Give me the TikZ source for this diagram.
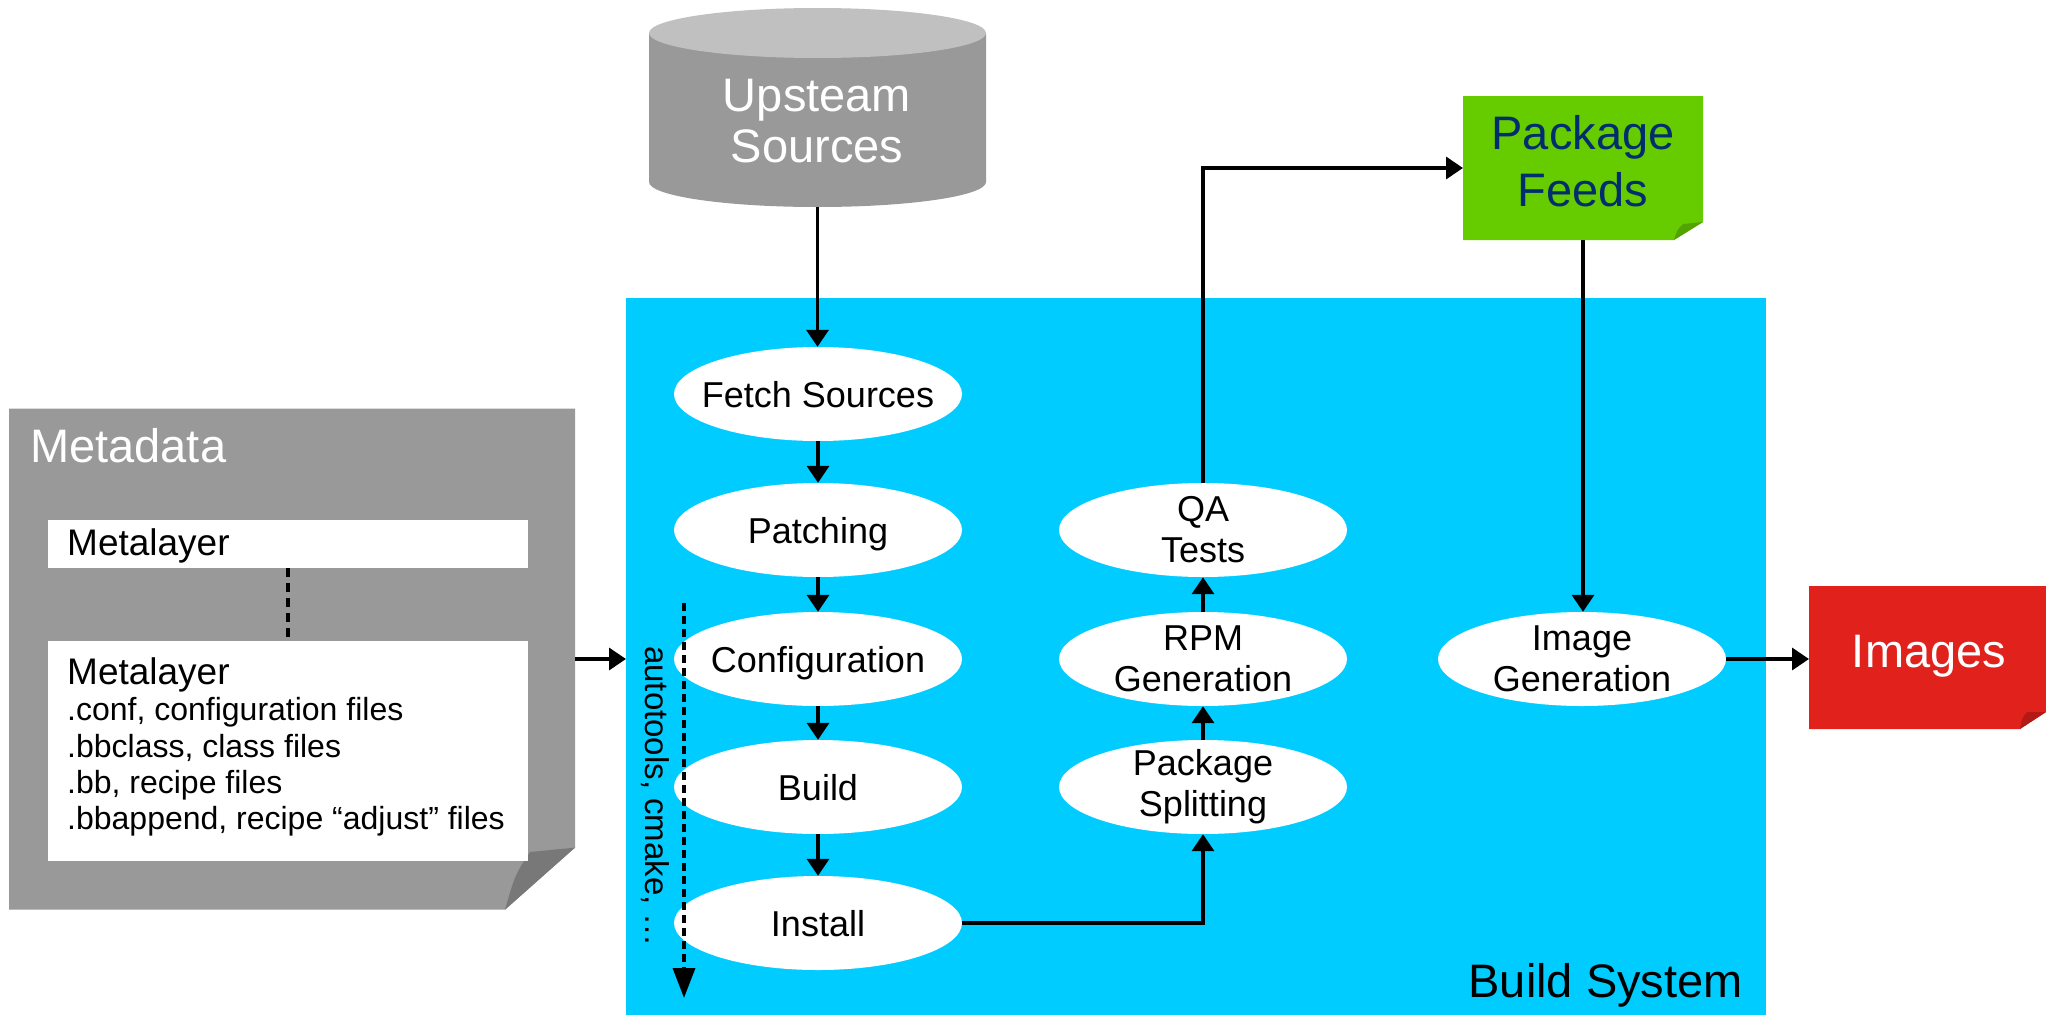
\documentclass[tikz,border=0pt]{standalone}
\usepackage{fontspec}
\setmainfont{Liberation Sans}
\usetikzlibrary{shapes.geometric,arrows.meta}

\definecolor{bscyan}{HTML}{00CCFF}
\definecolor{metagray}{HTML}{999999}
\definecolor{metafold}{HTML}{787878}
\definecolor{cyltop}{HTML}{C0C0C0}
\definecolor{feedgreen}{HTML}{66CC00}
\definecolor{feedfold}{HTML}{52A300}
\definecolor{imgred}{HTML}{E1211B}
\definecolor{imgfold}{HTML}{B31A15}
\definecolor{feednavy}{RGB}{0,45,110}

\newcommand\fsz[2]{\fontsize{#1pt}{#2pt}\selectfont}

\tikzset{
  procnode/.style={ellipse, fill=white, minimum width=288pt, minimum height=94pt, inner sep=0pt},
  lbl/.style={font=\fsz{36}{41}, align=center, inner sep=0pt},
  onel/.style={lbl, text height=26pt, text depth=0pt},
  arr/.style={line width=3.5pt, -{Triangle[width=22pt,length=17pt]}},
  dotline/.style={line width=3.5pt, dash pattern=on 9pt off 6pt},
  dasharr/.style={line width=3.5pt, dash pattern=on 8pt off 5pt, -{Triangle[width=22pt,length=30pt]}},
  anchorbox/.style={rectangle, inner sep=0pt, outer sep=0pt},
  whitebox/.style={rectangle, fill=white, inner sep=0pt, outer sep=0pt, anchor=north west},
  layerline/.style={anchor=base west, font=\fsz{32}{36}, inner sep=0pt},
}

\begin{document}
\begin{tikzpicture}[x=1pt, y=-1pt]
\useasboundingbox (0,0) rectangle (2046,1015);
\fill[white] (0,0) rectangle (2046,1015);

% build system area
\node[anchorbox, fill=bscyan, minimum width=1140pt, minimum height=717pt, anchor=north west] (bsys) at (626,298) {};
\node[anchor=base east, font=\fsz{47}{56}, inner sep=0pt] (bslabel) at (1743,997) {Build System};

% metadata sheet with folded corner
\fill[metagray] (9,408.6) -- (575,408.6) -- (575,847.6) -- (505,909.7) -- (9,909.7) -- cycle;
\fill[metafold] (505,909.7) .. controls (515,875) .. (530,852) -- (575,847.6) -- cycle;
\node[anchorbox, minimum width=566pt, minimum height=501pt] (meta) at (292,659) {};
\node[anchor=base west, text=white, font=\fsz{47}{56}, inner sep=0pt] (metatitle) at (30,462) {Metadata};

\node[whitebox, minimum width=480.5pt, minimum height=48.3pt] (layerA) at (47.5,519.7) {};
\node[whitebox, minimum width=480.5pt, minimum height=220pt] (layerB) at (47.5,641) {};
\node[anchor=base west, font=\fsz{37}{44}, inner sep=0pt] (layerAtext) at (67,555) {Metalayer};
\node[anchor=base west, font=\fsz{37}{44}, inner sep=0pt] (layerBtext) at (67,684.5) {Metalayer};
\node[layerline] (conf) at (67,720.7) {.conf, configuration files};
\node[layerline] (bbclass) at (67,757.6) {.bbclass, class files};
\node[layerline] (bb) at (67,793) {.bb, recipe files};
\node[layerline] (bbappend) at (67,829.3) {.bbappend, recipe “adjust” files};
\draw[dotline] (layerA.south) -- (layerB.north);

% upstream sources cylinder
\fill[metagray] (649,33) -- (649,182)
  arc[start angle=180, end angle=360, x radius=168.5pt, y radius=25pt] -- (986,33) -- cycle;
\fill[cyltop] (817.5,33) ellipse [x radius=168.5pt, y radius=25pt];
\node[anchorbox, minimum width=337pt, minimum height=199pt] (ups) at (817.5,107.5) {};
\node[text=white, font=\fsz{47}{51.5}, align=center, inner sep=0pt] (upstext) at (817,121) {Upsteam\\Sources};

% package feeds sheet
\fill[feedgreen] (1463,96) -- (1703,96) -- (1703,222) -- (1674,240) -- (1463,240) -- cycle;
\fill[feedfold] (1674,240) .. controls (1677,230) .. (1683,224) -- (1703,222) -- cycle;
\node[anchorbox, minimum width=240pt, minimum height=144pt] (feeds) at (1583,168) {};
\node[text=feednavy, font=\fsz{47}{57}, align=center, inner sep=0pt] (feedstext) at (1583,161) {Package\\Feeds};

% images sheet
\fill[imgred] (1809,586) -- (2046,586) -- (2046,712) -- (2020,729) -- (1809,729) -- cycle;
\fill[imgfold] (2020,729) .. controls (2022,718) .. (2027,712) -- (2046,712) -- cycle;
\node[anchorbox, minimum width=237pt, minimum height=143pt] (images) at (1927.5,657.5) {};
\node[anchor=base, text=white, font=\fsz{47}{56}, inner sep=0pt] (imagestext) at (1929,667) {Images};

% process steps
\node[procnode, label={[onel]center:Fetch Sources}] (fetch) at (818,394) {};
\node[procnode, label={[onel]center:Patching}] (patch) at (818,530) {};
\node[procnode, label={[onel]center:Configuration}] (config) at (818,659) {};
\node[procnode, label={[onel]center:Build}] (build) at (818,787) {};
\node[procnode, label={[onel]center:Install}] (install) at (818,923) {};

\node[procnode, label={[lbl]center:{Package\\Splitting}}] (split) at (1203,787) {};
\node[procnode, label={[lbl]center:{RPM\\Generation}}] (rpm) at (1203,659) {};
\node[procnode, label={[lbl]center:{QA\\Tests}}] (qa) at (1203,530) {};

\node[procnode, label={[lbl]center:{Image\\Generation}}] (imggen) at (1582,659) {};

% autotools note
\coordinate (toolstop) at (684,603);
\coordinate (toolsbot) at (684,998);
\draw[dasharr] (toolstop) -- (toolsbot);
\node[rotate=-90, anchor=west, font=\fsz{33}{40}, inner sep=0pt] (tools) at (655,646) {autotools, cmake, …};

% connectors
\draw[arr] (meta.east) -- (meta.east -| bsys.west);
\draw[arr] (ups.south) -- (ups.south |- fetch.north);
\draw[arr] (fetch) -- (patch);
\draw[arr] (patch) -- (config);
\draw[arr] (config) -- (build);
\draw[arr] (build) -- (install);
\draw[arr] (install.east) -| (split.south);
\draw[arr] (split) -- (rpm);
\draw[arr] (rpm) -- (qa);
\draw[arr] (qa.north) |- (feeds.west);
\draw[arr] (feeds.south) -- (feeds.south |- imggen.north);
\draw[arr] (imggen.east) -- (imggen.east -| images.west);
\end{tikzpicture}
\end{document}
